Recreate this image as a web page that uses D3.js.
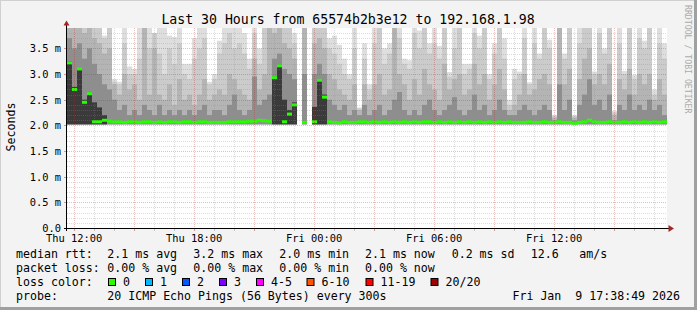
<!DOCTYPE html>
<html>
<head>
<meta charset="utf-8">
<script src="https://cdn.jsdelivr.net/npm/d3@7"></script>
<style>
  body { margin: 0; background: #f3f3f3; }
  svg { display: block; }
  text { font-family: "DejaVu Sans Mono", monospace; fill: #000; white-space: pre; }
</style>
</head>
<body>
<svg id="chart" width="697" height="310"></svg>
<script>
// --- data: 15 minute columns starting Thu 11:40 -------------------------
const startTime = new Date(2026, 0, 8, 11, 40);
const endTime = new Date(2026, 0, 9, 17, 40);
const stepMinutes = 15;

// median rtt (ms), null = no data
const median = [
  3.22, 2.70, 3.10, 2.45, 2.62, 2.07, 2.07, 2.10, 2.08, 2.07,
  2.07, 2.06, 2.07, 2.07, 2.06, 2.07, 2.07, 2.06, 2.07, 2.06,
  2.07, 2.07, 2.06, 2.07, 2.07, 2.06, 2.07, 2.07, 2.06, 2.06,
  2.06, 2.06, 2.07, 2.07, 2.07, 2.07, 2.08, 2.08, 2.10, 2.09,
  2.08, 2.93, 3.16, 2.07, 2.22, 2.40, null, 2.06, null, 2.07,
  2.88, 2.55, 2.07, 2.06, 2.05, 2.07, 2.06, 2.06, 2.07, 2.07,
  2.06, 2.07, 2.06, 2.07, 2.06, 2.07, 2.06, 2.07, 2.06, 2.07,
  2.06, 2.07, 2.07, 2.06, 2.07, 2.06, 2.07, 2.06, 2.07, 2.06,
  2.07, 2.06, 2.07, 2.06, 2.07, 2.06, 2.07, 2.06, 2.07, 2.06,
  2.06, 2.06, 2.07, 2.06, 2.06, 2.07, 2.06, 2.06, 2.07, 2.06,
  2.06, 2.04, 2.06, 2.07, 2.10, 2.07, 2.06, 2.06, 2.07, 2.06,
  2.06, 2.07, 2.06, 2.07, 2.06, 2.07, 2.06, 2.07, 2.06, 2.07
];

// smoke band tops (ms), from the outermost (lightest) to the innermost (darkest)
const smokeMax = [
  4.0, 4.0, 4.0, 4.0, 4.0, 4.0, 4.0, 3.75, 4.0, 2.9,
  2.85, 4.0, 3.15, 3.1, 4.0, 4.0, 4.0, 3.8, 4.0, 4.0,
  3.75, 3.72, 4.0, 3.2, 3.2, 3.7, 4.0, 4.0, 2.85, 3.0,
  3.65, 4.0, 4.0, 4.0, 4.0, 3.8, 3.3, 4.0, 3.5, 4.0,
  4.0, 4.0, 4.0, 4.0, 4.0, 3.8, null, 4.0, null, 4.0,
  4.0, 4.0, 3.7, 3.75, 3.57, 3.3, 3.0, 4.0, 2.35, 3.6,
  2.8, 4.0, 4.0, 3.5, 3.6, 4.0, 4.0, 3.3, 3.27, 4.0,
  3.85, 4.0, 3.6, 4.0, 3.55, 4.0, 3.04, 4.0, 4.0, 3.2,
  3.2, 4.0, 3.75, 4.0, 3.0, 3.6, 4.0, 3.7, 2.5, 3.1,
  3.05, 4.0, 2.84, 4.0, 3.4, 4.0, 3.67, 2.2, 4.0, 3.4,
  4.0, 2.2, 4.0, 4.0, 4.0, 3.05, 4.0, 3.5, 4.0, 2.28,
  4.0, 3.06, 4.0, 2.98, 4.0, 3.65, 4.0, 2.7, 4.0, 3.6
];
const smokeHigh = [
  4.0, 4.0, 4.0, 4.0, 4.0, 4.0, 3.9, 3.7, 3.9, 2.85,
  2.8, 3.6, 3.0, 3.0, 3.3, 4.0, 3.5, 3.8, 3.4, 3.0,
  3.5, 3.2, 3.6, 3.0, 2.9, 3.3, 3.5, 3.7, 2.8, 2.9,
  3.4, 3.6, 3.8, 3.5, 3.6, 3.4, 3.1, 3.8, 3.2, 4.0,
  4.0, 4.0, 4.0, 4.0, 3.9, 3.6, null, 4.0, null, 4.0,
  4.0, 3.9, 3.5, 3.4, 3.2, 3.0, 2.9, 3.5, 2.33, 3.3,
  2.7, 3.6, 4.0, 3.2, 3.4, 4.0, 3.7, 3.2, 3.1, 3.8,
  3.5, 4.0, 3.4, 3.6, 3.3, 4.0, 2.95, 3.5, 3.9, 3.0,
  3.1, 3.8, 3.5, 3.9, 2.9, 3.4, 4.0, 3.3, 2.4, 2.9,
  3.0, 3.7, 2.8, 3.6, 3.3, 3.9, 3.5, 2.18, 4.0, 3.3,
  4.0, 2.18, 3.6, 4.0, 4.0, 3.0, 3.8, 3.4, 4.0, 2.25,
  3.6, 3.0, 3.9, 2.9, 3.7, 3.5, 3.9, 2.6, 3.6, 3.3
];
const smokeMid = [
  4.0, 3.9, 4.0, 3.8, 3.9, 3.7, 3.6, 3.4, 3.5, 2.8,
  2.6, 3.0, 2.7, 2.8, 2.5, 3.9, 2.6, 3.5, 2.6, 2.5,
  2.8, 2.4, 2.9, 2.5, 2.6, 2.4, 2.6, 2.9, 2.5, 2.6,
  2.7, 2.6, 3.0, 2.9, 2.7, 2.6, 2.5, 3.3, 2.7, 3.0,
  3.9, 3.8, 3.9, 3.6, 3.5, 3.3, null, 4.0, null, 3.6,
  3.7, 3.5, 3.0, 2.9, 2.7, 2.6, 2.5, 2.8, 2.3, 2.8,
  2.5, 2.8, 3.0, 2.6, 2.7, 3.9, 3.0, 2.8, 2.5, 2.9,
  2.6, 3.1, 2.8, 2.7, 2.5, 3.2, 2.7, 2.9, 3.0, 2.6,
  2.7, 3.2, 2.8, 3.0, 2.5, 2.8, 3.1, 2.7, 2.3, 2.4,
  2.6, 3.0, 2.6, 2.7, 2.9, 3.0, 2.8, 2.15, 4.0, 2.8,
  3.1, 2.15, 2.9, 3.3, 3.5, 2.8, 3.0, 2.8, 3.2, 2.2,
  2.9, 2.7, 3.1, 2.6, 3.0, 2.8, 3.0, 2.5, 2.9, 2.6
];
const smokeLow = [
  3.70, 3.50, 3.60, 3.30, 3.50, 3.20, 3.00, 2.80, 2.70, 2.50,
  2.30, 2.40, 2.20, 2.30, 2.20, 2.40, 2.30, 2.20, 2.40, 2.20,
  2.30, 2.20, 2.30, 2.20, 2.30, 2.20, 2.30, 2.40, 2.20, 2.30,
  2.30, 2.20, 2.40, 2.60, 2.30, 2.20, 2.30, 2.95, 2.40, 2.50,
  2.60, 3.30, 3.40, 3.10, 3.00, 2.90, null, 3.00, null, 3.00,
  3.20, 3.00, 2.50, 2.40, 2.30, 2.40, 2.20, 2.30, 2.20, 2.40,
  2.20, 2.30, 2.40, 2.20, 2.30, 2.50, 2.65, 2.30, 2.20, 2.30,
  2.20, 2.40, 2.50, 2.30, 2.20, 2.30, 2.40, 2.55, 2.30, 2.20,
  2.30, 2.60, 2.30, 2.40, 2.20, 2.30, 2.50, 2.30, 2.20, 2.20,
  2.30, 2.40, 2.30, 2.20, 2.30, 2.40, 2.30, 2.10, 2.80, 2.30,
  2.50, 2.10, 2.40, 2.60, 2.90, 2.40, 2.50, 2.30, 2.60, 2.10,
  2.40, 2.30, 2.60, 2.30, 2.40, 2.30, 2.50, 2.30, 2.40, 2.20
];
const smokeDark = [
  3.25, 2.75, 3.12, 2.50, 2.65, 2.45, 2.35, 2.20, 0, 0,
  0, 0, 0, 0, 0, 0, 0, 0, 0, 0,
  0, 0, 0, 0, 0, 0, 0, 0, 0, 0,
  0, 0, 0, 0, 0, 0, 0, 0, 0, 0,
  0, 2.95, 3.18, 2.50, 2.30, 2.45, null, 0, null, 2.36,
  2.90, 2.60, 0, 0, 0, 0, 0, 0, 0, 0,
  0, 0, 0, 0, 0, 0, 0, 0, 0, 0,
  0, 0, 0, 0, 0, 0, 0, 0, 0, 0,
  0, 0, 0, 0, 0, 0, 0, 0, 0, 0,
  0, 0, 0, 0, 0, 0, 0, 0, 0, 0,
  0, 0, 0, 0, 0, 0, 0, 0, 0, 0,
  0, 0, 0, 0, 0, 0, 0, 0, 0, 0
];
const smokeFloor = 2.02;

const yTickValues = [0, 0.5, 1.0, 1.5, 2.0, 2.5, 3.0, 3.5];
const yTickLabels = ['0.0', '0.5 m', '1.0 m', '1.5 m', '2.0 m', '2.5 m', '3.0 m', '3.5 m'];
const xTickTimes = [new Date(2026, 0, 8, 12), new Date(2026, 0, 8, 18), new Date(2026, 0, 9, 0),
                    new Date(2026, 0, 9, 6), new Date(2026, 0, 9, 12)];
const xTickLabels = ['Thu 12:00', 'Thu 18:00', 'Fri 00:00', 'Fri 06:00', 'Fri 12:00'];

const titleText = 'Last 30 Hours from 65574b2b3e12 to 192.168.1.98';
const rttLegend = ['2.1 ms avg', '3.2 ms max', '2.0 ms min', '2.1 ms now', '0.2 ms sd', '12.6', 'am/s'];
const lossLegend = ['0.00 % avg', '0.00 % max', '0.00 % min', '0.00 % now'];
const lossLabels = ['0', '1', '2', '3', '4-5', '6-10', '11-19', '20/20'];
const lossColors = ['#26ff00', '#00b8ff', '#0059ff', '#7e00ff', '#ff00ff', '#ff5500', '#ff0000', '#a00000'];
const probeText = '20 ICMP Echo Pings (56 Bytes) every 300s';
const dateText = 'Fri Jan  9 17:38:49 2026';

// --- layout -------------------------------------------------------------
const W = 697, H = 310;
const plot = { left: 67, right: 667, top: 28, bottom: 228 };

const svg = d3.select('#chart');

svg.append('rect').attr('width', W).attr('height', H).attr('fill', '#f3f3f3');
// 3d frame
svg.append('rect').attr('x', 0).attr('y', 0).attr('width', W).attr('height', 1).attr('fill', '#d0d0d0');
svg.append('rect').attr('x', 0).attr('y', 0).attr('width', 1).attr('height', H).attr('fill', '#d0d0d0');
svg.append('rect').attr('x', 0).attr('y', H - 3).attr('width', W).attr('height', 3).attr('fill', '#a0a0a0');
svg.append('rect').attr('x', W - 3).attr('y', 0).attr('width', 3).attr('height', H).attr('fill', '#a0a0a0');

const x = d3.scaleTime().domain([startTime, endTime]).range([plot.left, plot.right]);
const y = d3.scaleLinear().domain([0, 3.898]).range([plot.bottom, plot.top]);

svg.append('defs').append('clipPath').attr('id', 'clip')
  .append('rect')
  .attr('x', plot.left).attr('y', plot.top)
  .attr('width', plot.right - plot.left).attr('height', plot.bottom - plot.top);

// canvas
svg.append('rect')
  .attr('x', plot.left).attr('y', plot.top)
  .attr('width', plot.right - plot.left).attr('height', plot.bottom - plot.top)
  .attr('fill', '#ffffff');

const colTime = i => d3.timeMinute.offset(startTime, i * stepMinutes);
const data = median.map((m, i) => ({
  t0: colTime(i), t1: colTime(i + 1), med: m,
  levels: [smokeMax[i], smokeHigh[i], smokeMid[i], smokeLow[i], smokeDark[i]]
}));

// smoke
const smokeColors = ['#dedede', '#cbcbcb', '#b4b4b4', '#8e8e8e', '#3a3a3a'];
const smoke = svg.append('g').attr('clip-path', 'url(#clip)');
smokeColors.forEach((c, k) => {
  smoke.append('g')
    .selectAll('rect')
    .data(data.filter(d => d.levels[k] != null && d.levels[k] > smokeFloor))
    .enter().append('rect')
    .attr('x', d => x(d.t0))
    .attr('width', d => x(d.t1) - x(d.t0))
    .attr('y', d => y(d.levels[k]))
    .attr('height', d => y(smokeFloor) - y(d.levels[k]))
    .attr('fill', c);
});

// median (drawn as short bars, coloured by loss)
smoke.append('g')
  .selectAll('rect')
  .data(data.filter(d => d.med != null))
  .enter().append('rect')
  .attr('x', d => x(d.t0))
  .attr('width', d => x(d.t1) - x(d.t0))
  .attr('y', d => y(d.med) - 1.5)
  .attr('height', 3)
  .attr('fill', lossColors[0]);

// grid
const grid = svg.append('g').attr('shape-rendering', 'crispEdges');
const minorGrid = 'rgba(140,140,140,0.3)';
const majorGrid = 'rgba(170,40,40,0.3)';

const yMinor = d3.range(1, 39).map(v => v / 10).filter(v => Math.round(v * 10) % 5 !== 0);
grid.selectAll('line.ymin').data(yMinor).enter().append('line')
  .attr('x1', plot.left).attr('x2', plot.right)
  .attr('y1', d => Math.round(y(d)) + 0.5).attr('y2', d => Math.round(y(d)) + 0.5)
  .attr('stroke', minorGrid).attr('stroke-dasharray', '1,1');

const hours = d3.timeHour.range(startTime, endTime);
grid.selectAll('line.xmin').data(hours.filter(h => h.getHours() % 3 !== 0)).enter().append('line')
  .attr('x1', d => Math.round(x(d)) + 0.5).attr('x2', d => Math.round(x(d)) + 0.5)
  .attr('y1', plot.top).attr('y2', plot.bottom)
  .attr('stroke', minorGrid).attr('stroke-dasharray', '1,1');

grid.selectAll('line.ymaj').data(yTickValues.slice(1)).enter().append('line')
  .attr('x1', plot.left).attr('x2', plot.right)
  .attr('y1', d => Math.round(y(d)) + 0.5).attr('y2', d => Math.round(y(d)) + 0.5)
  .attr('stroke', majorGrid).attr('stroke-dasharray', '1,1');

grid.selectAll('line.xmaj').data(hours.filter(h => h.getHours() % 3 === 0)).enter().append('line')
  .attr('x1', d => Math.round(x(d)) + 0.5).attr('x2', d => Math.round(x(d)) + 0.5)
  .attr('y1', plot.top).attr('y2', plot.bottom)
  .attr('stroke', majorGrid).attr('stroke-dasharray', '1,1');

// small ticks below the x axis
grid.selectAll('line.xtick').data(hours).enter().append('line')
  .attr('x1', d => Math.round(x(d)) + 0.5).attr('x2', d => Math.round(x(d)) + 0.5)
  .attr('y1', plot.bottom).attr('y2', plot.bottom + 3)
  .attr('stroke', d => d.getHours() % 3 === 0 ? 'rgba(170,40,40,0.45)' : 'rgba(140,140,140,0.45)');

// y ticks left of the axis
grid.selectAll('line.ytick').data(yTickValues).enter().append('line')
  .attr('x1', plot.left - 3).attr('x2', plot.left)
  .attr('y1', d => Math.round(y(d)) + 0.5).attr('y2', d => Math.round(y(d)) + 0.5)
  .attr('stroke', 'rgba(170,40,40,0.45)');

// axes
const yAxis = svg.append('g')
  .attr('transform', `translate(${plot.left},0)`)
  .call(d3.axisLeft(y).tickValues(yTickValues).tickFormat((d, i) => yTickLabels[i]).tickSize(0).tickPadding(6));
yAxis.select('.domain').remove();
yAxis.selectAll('text').style('font-size', '10.4px').attr('fill', '#000');

const xAxis = svg.append('g')
  .attr('transform', `translate(0,${plot.bottom})`)
  .call(d3.axisBottom(x).tickValues(xTickTimes).tickFormat((d, i) => xTickLabels[i]).tickSize(0).tickPadding(7));
xAxis.select('.domain').remove();
xAxis.selectAll('text').style('font-size', '10.4px').attr('fill', '#000');

const axisLines = svg.append('g').attr('shape-rendering', 'crispEdges');
axisLines.append('line')
  .attr('x1', plot.left - 0.5).attr('x2', plot.left - 0.5)
  .attr('y1', plot.bottom + 3).attr('y2', 25)
  .attr('stroke', '#000');
axisLines.append('line')
  .attr('x1', plot.left - 3).attr('x2', 669)
  .attr('y1', plot.bottom + 0.5).attr('y2', plot.bottom + 0.5)
  .attr('stroke', '#000');
svg.append('path')
  .attr('d', `M${plot.left - 3.5},25.5L${plot.left + 2.5},25.5L${plot.left - 0.5},20.5Z`)
  .attr('fill', '#a02828');
svg.append('path')
  .attr('d', `M668.5,225L668.5,232L674,228.5Z`)
  .attr('fill', '#a02828');

// title and labels
svg.append('text')
  .attr('x', 348).attr('y', 24)
  .attr('text-anchor', 'middle')
  .style('font-size', '13.2px')
  .text(titleText);

svg.append('text')
  .attr('transform', 'translate(15,127) rotate(-90)')
  .attr('text-anchor', 'middle')
  .style('font-size', '11.6px')
  .text('Seconds');

svg.append('text')
  .attr('transform', 'translate(685,5) rotate(90)')
  .style('font-size', '8.2px')
  .style('fill', '#ababab')
  .text('RRDTOOL / TOBI OETIKER');

// legend
const legend = svg.append('g').style('font-size', '11.6px');
const colX = [107.3, 193.3, 279.3, 365, 451.7, 530.7, 579.3];
const rowY = [258.3, 272.3, 286.3, 300.3];

legend.append('text').attr('x', 16).attr('y', rowY[0]).text('median rtt:');
rttLegend.forEach((s, i) => legend.append('text').attr('x', colX[i]).attr('y', rowY[0]).text(s));

legend.append('text').attr('x', 16).attr('y', rowY[1]).text('packet loss:');
lossLegend.forEach((s, i) => legend.append('text').attr('x', colX[i]).attr('y', rowY[1]).text(s));

legend.append('text').attr('x', 16).attr('y', rowY[2]).text('loss color:');
const boxX = [108.5, 145.5, 182.5, 219.5, 256.5, 307, 366, 431];
lossLabels.forEach((s, i) => {
  legend.append('rect')
    .attr('x', boxX[i]).attr('y', 278.5)
    .attr('width', 7).attr('height', 7)
    .attr('fill', lossColors[i])
    .attr('stroke', '#000').attr('stroke-width', 1);
  legend.append('text').attr('x', boxX[i] + 14.5).attr('y', rowY[2]).text(s);
});

legend.append('text').attr('x', 16).attr('y', rowY[3]).text('probe:');
legend.append('text').attr('x', colX[0]).attr('y', rowY[3]).text(probeText);
legend.append('text').attr('x', 680).attr('y', rowY[3]).attr('text-anchor', 'end').text(dateText);
</script>
</body>
</html>
